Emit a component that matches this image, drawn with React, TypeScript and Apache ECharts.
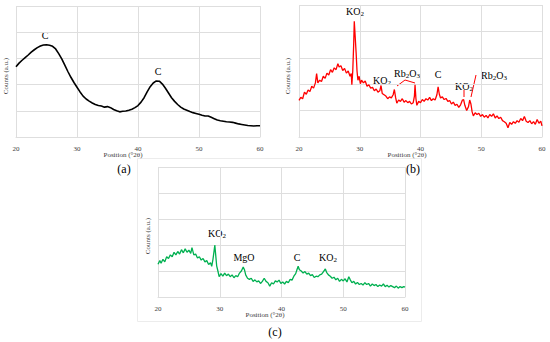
import React, { useEffect, useRef } from "react";
import * as echarts from "echarts";

// ---- Data (2θ position, counts in arbitrary units 0..5) ----
const tickLabels = ["20", "30", "40", "50", "60"];

const seriesA: [number, number][] = [
  [20.0, 2.68], [20.5, 2.82], [21.0, 2.93], [21.5, 3.03], [22.0, 3.13], [22.5, 3.24],
  [23.0, 3.33], [23.5, 3.41], [24.0, 3.47], [24.5, 3.51], [25.0, 3.52], [25.5, 3.5],
  [26.0, 3.46], [26.5, 3.36], [27.0, 3.18], [27.5, 2.98], [28.0, 2.74], [28.5, 2.5],
  [29.0, 2.28], [29.5, 2.08], [30.0, 1.9], [30.5, 1.72], [31.0, 1.56], [31.5, 1.45],
  [32.0, 1.37], [32.5, 1.3], [33.0, 1.24], [33.5, 1.2], [34.0, 1.18], [34.5, 1.14],
  [35.0, 1.16], [35.5, 1.12], [36.0, 1.05], [36.5, 1.0], [37.0, 0.96], [37.5, 0.98],
  [38.0, 0.99], [38.5, 1.02], [39.0, 1.06], [39.5, 1.12], [40.0, 1.2], [40.5, 1.33],
  [41.0, 1.5], [41.5, 1.72], [42.0, 1.92], [42.5, 2.06], [43.0, 2.14], [43.5, 2.13],
  [44.0, 2.02], [44.5, 1.86], [45.0, 1.68], [45.5, 1.5], [46.0, 1.36], [46.5, 1.24],
  [47.0, 1.14], [47.5, 1.07], [48.0, 1.02], [48.5, 0.97], [49.0, 0.93], [49.5, 0.9],
  [50.0, 0.87], [50.5, 0.83], [51.0, 0.8], [51.5, 0.8], [52.0, 0.75], [52.5, 0.7],
  [53.0, 0.65], [53.5, 0.62], [54.0, 0.6], [54.5, 0.58], [55.0, 0.57], [55.5, 0.56],
  [56.0, 0.53], [56.5, 0.5], [57.0, 0.48], [57.5, 0.46], [58.0, 0.44], [58.5, 0.43],
  [59.0, 0.42], [59.5, 0.43], [60.0, 0.43],
];

const seriesB: [number, number][] = [
  [20.0, 1.39], [20.3, 1.5], [20.6, 1.45], [20.9, 1.7], [21.2, 1.62], [21.5, 1.78],
  [21.8, 1.72], [22.1, 1.92], [22.4, 1.85], [22.7, 2.05], [22.9, 2.4], [23.1, 2.05],
  [23.4, 2.15], [23.7, 2.1], [24.0, 2.3], [24.3, 2.22], [24.6, 2.42], [24.9, 2.35],
  [25.2, 2.55], [25.5, 2.45], [25.8, 2.62], [26.1, 2.55], [26.4, 2.78], [26.6, 2.65],
  [26.9, 2.7], [27.2, 2.52], [27.5, 2.6], [27.8, 2.42], [28.1, 2.5], [28.4, 2.3],
  [28.6, 2.4], [28.7, 1.98], [28.85, 2.5], [29.0, 3.5], [29.1, 4.38], [29.25, 3.8],
  [29.4, 3.2], [29.55, 2.5], [29.7, 2.15], [29.9, 2.3], [30.1, 2.02], [30.3, 2.15],
  [30.6, 2.05], [30.9, 2.12], [31.2, 1.92], [31.5, 1.98], [31.8, 1.85], [32.1, 1.88],
  [32.4, 1.75], [32.7, 1.82], [33.0, 1.7], [33.3, 1.75], [33.5, 1.95], [33.7, 1.65],
  [34.0, 1.6], [34.3, 1.55], [34.6, 1.45], [34.9, 1.52], [35.2, 1.48], [35.5, 1.6],
  [35.7, 1.8], [35.9, 1.5], [36.1, 1.28], [36.4, 1.4], [36.7, 1.35], [37.0, 1.45],
  [37.3, 1.32], [37.6, 1.38], [37.9, 1.3], [38.2, 1.35], [38.5, 1.25], [38.8, 1.3],
  [39.0, 1.55], [39.1, 1.98], [39.25, 1.45], [39.4, 1.2], [39.7, 1.35], [40.0, 1.3],
  [40.3, 1.42], [40.6, 1.35], [40.9, 1.45], [41.2, 1.4], [41.5, 1.5], [41.8, 1.38],
  [42.1, 1.45], [42.4, 1.4], [42.7, 1.6], [42.9, 1.9], [43.1, 1.62], [43.3, 1.48],
  [43.6, 1.52], [43.9, 1.42], [44.2, 1.46], [44.5, 1.35], [44.8, 1.38], [45.1, 1.25],
  [45.4, 1.32], [45.7, 1.2], [46.0, 1.24], [46.3, 1.12], [46.6, 1.22], [46.9, 1.4],
  [47.1, 1.42], [47.3, 1.2], [47.6, 1.0], [47.9, 1.15], [48.1, 1.4], [48.3, 1.25],
  [48.5, 0.95], [48.7, 0.8], [49.0, 0.92], [49.3, 0.85], [49.6, 0.9], [49.9, 0.78],
  [50.2, 0.85], [50.5, 0.75], [50.8, 0.82], [51.1, 0.72], [51.4, 0.85], [51.7, 0.78],
  [52.0, 0.88], [52.3, 0.72], [52.6, 0.8], [52.9, 0.7], [53.2, 0.75], [53.5, 0.62],
  [53.8, 0.58], [54.1, 0.52], [54.4, 0.35], [54.7, 0.55], [55.0, 0.48], [55.3, 0.58],
  [55.6, 0.52], [55.9, 0.62], [56.2, 0.56], [56.5, 0.7], [56.8, 0.62], [57.1, 0.78],
  [57.4, 0.6], [57.7, 0.55], [58.0, 0.62], [58.3, 0.5], [58.6, 0.58], [58.9, 0.48],
  [59.2, 0.66], [59.5, 0.52], [59.8, 0.6], [60.0, 0.42],
];

const seriesC: [number, number][] = [
  [20.0, 1.26], [20.3, 1.4], [20.5, 1.3], [20.8, 1.45], [21.1, 1.35], [21.4, 1.55],
  [21.7, 1.48], [22.0, 1.62], [22.3, 1.55], [22.6, 1.72], [22.9, 1.62], [23.2, 1.75],
  [23.5, 1.65], [23.8, 1.82], [24.1, 1.7], [24.4, 1.85], [24.7, 1.72], [25.0, 1.8],
  [25.3, 1.68], [25.5, 1.9], [25.8, 1.62], [26.1, 1.65], [26.4, 1.5], [26.7, 1.55],
  [27.0, 1.42], [27.3, 1.48], [27.6, 1.35], [27.9, 1.4], [28.2, 1.25], [28.5, 1.32],
  [28.7, 1.18], [28.9, 1.45], [29.1, 1.8], [29.2, 2.0], [29.35, 1.6], [29.5, 1.2],
  [29.7, 1.0], [29.9, 0.78], [30.2, 0.9], [30.5, 0.8], [30.8, 0.92], [31.1, 0.82],
  [31.4, 0.88], [31.7, 0.78], [32.0, 0.85], [32.3, 0.74], [32.6, 0.82], [32.9, 0.78],
  [33.2, 0.92], [33.5, 1.0], [33.8, 1.15], [34.0, 1.05], [34.2, 0.85], [34.5, 0.72],
  [34.8, 0.68], [35.1, 0.72], [35.4, 0.6], [35.7, 0.66], [36.0, 0.58], [36.3, 0.62],
  [36.6, 0.52], [36.9, 0.6], [37.2, 0.72], [37.5, 0.6], [37.8, 0.55], [38.1, 0.42],
  [38.4, 0.55], [38.7, 0.5], [39.0, 0.62], [39.3, 0.58], [39.6, 0.65], [39.9, 0.52],
  [40.2, 0.58], [40.5, 0.5], [40.8, 0.6], [41.1, 0.55], [41.4, 0.68], [41.7, 0.65],
  [42.0, 0.8], [42.3, 0.9], [42.5, 1.05], [42.7, 1.18], [42.9, 1.05], [43.2, 1.0],
  [43.5, 0.92], [43.8, 0.98], [44.1, 0.88], [44.4, 0.92], [44.7, 0.82], [45.0, 0.86],
  [45.3, 0.75], [45.6, 0.8], [45.9, 0.78], [46.2, 0.85], [46.5, 0.88], [46.8, 0.98],
  [47.1, 1.08], [47.3, 0.95], [47.6, 0.85], [47.9, 0.8], [48.2, 0.72], [48.5, 0.76],
  [48.8, 0.66], [49.1, 0.72], [49.4, 0.6], [49.7, 0.68], [50.0, 0.62], [50.3, 0.7],
  [50.6, 0.58], [50.9, 0.78], [51.1, 0.68], [51.4, 0.55], [51.7, 0.6], [52.0, 0.5],
  [52.3, 0.56], [52.6, 0.48], [52.9, 0.52], [53.2, 0.46], [53.5, 0.55], [53.8, 0.48],
  [54.1, 0.52], [54.4, 0.42], [54.7, 0.5], [55.0, 0.44], [55.3, 0.48], [55.6, 0.4],
  [55.9, 0.46], [56.2, 0.42], [56.5, 0.5], [56.8, 0.4], [57.1, 0.45], [57.4, 0.38],
  [57.7, 0.44], [58.0, 0.4], [58.3, 0.36], [58.6, 0.42], [58.9, 0.34], [59.2, 0.4],
  [59.5, 0.36], [59.8, 0.4], [60.0, 0.38],
];

const panelLetters = ["(a)", "(b)", "(c)"];
const xAxisTitle = "Position (°2θ)";
const yAxisTitle = "Counts (a.u.)";

const SERIF = "'Liberation Serif', 'DejaVu Serif', serif";

function chem(x: number, y: number, text: string) {
  return {
    type: "text",
    x,
    y,
    silent: true,
    style: {
      text,
      fill: "#000",
      align: "center",
      verticalAlign: "middle",
      rich: {
        n: { fontSize: 10, fontFamily: SERIF, fill: "#000" },
        s: { fontSize: 7, fontFamily: SERIF, fill: "#000", padding: [6, 0, 0, 0] },
      },
    },
  };
}

function plain(x: number, y: number, text: string, size: number, color = "#000", rotation = 0) {
  return {
    type: "text",
    x,
    y,
    rotation,
    silent: true,
    style: {
      text,
      fill: color,
      fontSize: size,
      fontFamily: SERIF,
      align: "center",
      verticalAlign: "middle",
    },
  };
}

function redLine(points: [number, number][]) {
  return {
    type: "polyline",
    silent: true,
    shape: { points },
    style: { stroke: "#ff0000", lineWidth: 1, fill: "none" },
  };
}

export default function App() {
  const ref = useRef<HTMLDivElement>(null);

  useEffect(() => {
    document.body.style.margin = "0";
    if (!ref.current) return;
    const chart = echarts.init(ref.current, undefined, { renderer: "svg" });

    const grids = [
      { left: 16, top: 6, width: 244, height: 131 },
      { left: 299, top: 5, width: 243, height: 132 },
      { left: 158, top: 167, width: 247, height: 130 },
    ];

    const gridColor = "#dedede";

    const xAxes = grids.map((_, i) => ({
      gridIndex: i,
      type: "value",
      min: 20,
      max: 60,
      interval: 10,
      axisLine: { show: true, lineStyle: { color: gridColor } },
      axisTick: { show: false },
      axisLabel: {
        fontSize: 7,
        color: "#404040",
        fontFamily: SERIF,
        margin: 8,
        formatter: (v: number) => tickLabels[Math.round((v - 20) / 10)] ?? String(v),
      },
      splitLine: { show: true, lineStyle: { color: gridColor, width: 1 } },
    }));

    const yAxes = grids.map((_, i) => ({
      gridIndex: i,
      type: "value",
      min: 0,
      max: 5,
      interval: 1,
      axisLabel: { show: false },
      axisLine: { show: false },
      axisTick: { show: false },
      splitLine: { show: true, lineStyle: { color: gridColor, width: 1 } },
    }));

    const mk = (data: [number, number][], i: number, color: string, width: number) => ({
      type: "line",
      xAxisIndex: i,
      yAxisIndex: i,
      data,
      showSymbol: false,
      symbol: "none",
      lineStyle: { color, width },
      itemStyle: { color },
      silent: true,
    });

    const graphics: any[] = [
      {
        type: "rect",
        silent: true,
        shape: { x: 137.5, y: 158.5, width: 284, height: 163 },
        style: { fill: "none", stroke: "#ececec", lineWidth: 1 },
        z: -1,
      },
      plain(123, 155, xAxisTitle, 7, "#404040"),
      plain(407, 155, xAxisTitle, 7, "#404040"),
      plain(265, 315, xAxisTitle, 7, "#404040"),
      plain(6, 76, yAxisTitle, 7, "#404040", Math.PI / 2),
      plain(288, 76, yAxisTitle, 7, "#404040", Math.PI / 2),
      plain(148, 236, yAxisTitle, 7, "#404040", Math.PI / 2),
      plain(124, 169, panelLetters[0], 12),
      plain(413, 169, panelLetters[1], 12),
      plain(275, 332, panelLetters[2], 12),
      plain(45, 35, "C", 10),
      plain(158, 71, "C", 10),
      chem(355, 11, "{n|KO}{s|2}"),
      chem(382, 80, "{n|KO}{s|2}"),
      chem(407, 73, "{n|Rb}{s|2}{n|O}{s|3}"),
      redLine([[397, 86], [405, 80], [415, 83]]),
      plain(438, 74, "C", 10),
      chem(464, 86, "{n|KO}{s|2}"),
      redLine([[464, 90], [464, 97]]),
      chem(494, 75, "{n|Rb}{s|2}{n|O}{s|3}"),
      redLine([[471, 97], [476, 75]]),
      chem(217, 233, "{n|KO}{s|2}"),
      plain(244, 257, "MgO", 10),
      plain(297, 257, "C", 10),
      chem(328, 257, "{n|KO}{s|2}"),
    ];

    chart.setOption({
      animation: false,
      backgroundColor: "#ffffff",
      grid: grids,
      xAxis: xAxes,
      yAxis: yAxes,
      series: [
        mk(seriesA, 0, "#000000", 1.6),
        mk(seriesB, 1, "#ff0000", 1.3),
        mk(seriesC, 2, "#00b050", 1.3),
      ],
      graphic: graphics,
    });

    return () => chart.dispose();
  }, []);

  return <div ref={ref} style={{ width: 550, height: 342 }} />;
}
